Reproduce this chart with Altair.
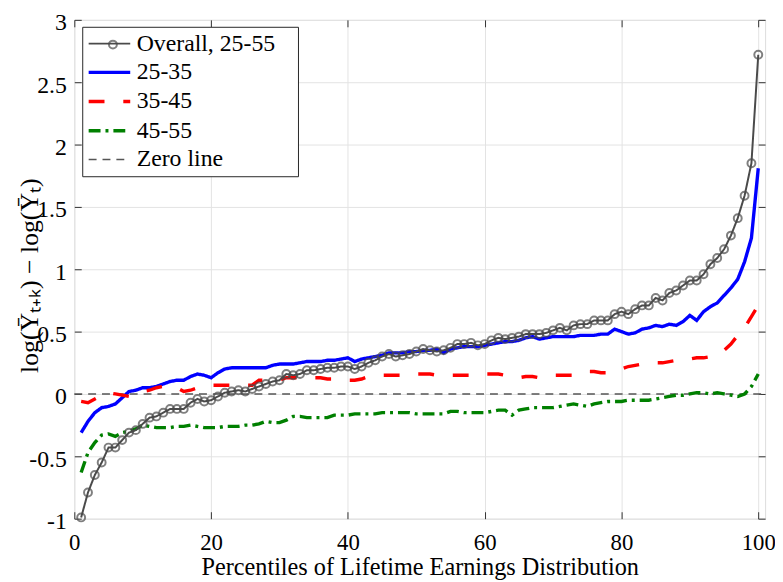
import altair as alt
import pandas as pd

FONT = "Liberation Serif"

pct = list(range(1, 101))

overall = [-0.99, -0.79, -0.65, -0.55, -0.43, -0.43, -0.37, -0.31, -0.29, -0.24,
           -0.19, -0.18, -0.15, -0.12, -0.12, -0.12, -0.07, -0.04, -0.06, -0.05,
           -0.02, 0.01, 0.02, 0.03, 0.02, 0.04, 0.06, 0.08, 0.10, 0.11,
           0.16, 0.15, 0.16, 0.19, 0.19, 0.20, 0.21, 0.21, 0.22, 0.22,
           0.20, 0.22, 0.25, 0.27, 0.30, 0.32, 0.30, 0.31, 0.32, 0.34,
           0.36, 0.35, 0.34, 0.35, 0.37, 0.40, 0.40, 0.41, 0.39, 0.40,
           0.43, 0.45, 0.44, 0.45, 0.46, 0.48, 0.48, 0.48, 0.49, 0.51,
           0.53, 0.51, 0.55, 0.56, 0.56, 0.59, 0.59, 0.59, 0.64, 0.66,
           0.64, 0.68, 0.71, 0.71, 0.77, 0.75, 0.81, 0.83, 0.87, 0.91,
           0.91, 0.96, 1.04, 1.09, 1.16, 1.27, 1.41, 1.59, 1.85, 2.72]

age_25_35 = [-0.31, -0.22, -0.15, -0.11, -0.10, -0.08, -0.03, 0.02, 0.03, 0.05,
             0.05, 0.06, 0.08, 0.10, 0.11, 0.11, 0.14, 0.16, 0.15, 0.13,
             0.17, 0.20, 0.21, 0.21, 0.21, 0.21, 0.21, 0.21, 0.23, 0.24,
             0.24, 0.24, 0.25, 0.26, 0.26, 0.26, 0.27, 0.27, 0.28, 0.29,
             0.26, 0.28, 0.29, 0.30, 0.31, 0.33, 0.33, 0.33, 0.34, 0.34,
             0.35, 0.35, 0.36, 0.33, 0.36, 0.37, 0.38, 0.38, 0.38, 0.39,
             0.40, 0.41, 0.42, 0.42, 0.43, 0.45, 0.46, 0.44, 0.45, 0.46,
             0.46, 0.46, 0.46, 0.47, 0.47, 0.47, 0.48, 0.48, 0.52, 0.50,
             0.48, 0.49, 0.52, 0.53, 0.55, 0.54, 0.56, 0.55, 0.58, 0.63,
             0.59, 0.66, 0.70, 0.73, 0.79, 0.85, 0.92, 1.06, 1.25, 1.81]

age_35_45 = [-0.06, -0.07, -0.04, -0.01, 0.01, 0.00, -0.01, -0.02, 0.00, 0.02,
             0.03, 0.05, 0.06, 0.05, 0.05, 0.02, 0.03, 0.05, 0.06, 0.07,
             0.07, 0.07, 0.07, 0.07, 0.07, 0.07, 0.11, 0.11, 0.11, 0.11,
             0.13, 0.13, 0.13, 0.13, 0.13, 0.13, 0.12, 0.12, 0.11, 0.11,
             0.11, 0.12, 0.14, 0.15, 0.15, 0.15, 0.15, 0.15, 0.16, 0.16,
             0.16, 0.16, 0.15, 0.15, 0.15, 0.15, 0.15, 0.15, 0.16, 0.16,
             0.16, 0.16, 0.15, 0.14, 0.13, 0.14, 0.14, 0.13, 0.14, 0.15,
             0.15, 0.15, 0.15, 0.16, 0.18, 0.18, 0.17, 0.17, 0.19, 0.20,
             0.22, 0.23, 0.24, 0.24, 0.25, 0.25, 0.26, 0.27, 0.27, 0.28,
             0.29, 0.29, 0.30, 0.32, 0.35, 0.40, 0.47, 0.53, 0.62, 0.71]

age_45_55 = [-0.63, -0.47, -0.39, -0.33, -0.32, -0.34, -0.31, -0.30, -0.28, -0.25,
             -0.26, -0.27, -0.27, -0.27, -0.26, -0.26, -0.25, -0.26, -0.27, -0.27,
             -0.27, -0.26, -0.26, -0.26, -0.25, -0.25, -0.24, -0.22, -0.23, -0.23,
             -0.21, -0.18, -0.18, -0.19, -0.19, -0.19, -0.19, -0.17, -0.17, -0.17,
             -0.16, -0.16, -0.16, -0.16, -0.15, -0.15, -0.15, -0.15, -0.15, -0.16,
             -0.16, -0.16, -0.16, -0.16, -0.14, -0.14, -0.15, -0.15, -0.15, -0.15,
             -0.14, -0.13, -0.13, -0.17, -0.13, -0.12, -0.11, -0.11, -0.11, -0.11,
             -0.10, -0.09, -0.08, -0.09, -0.10, -0.08, -0.07, -0.06, -0.06, -0.06,
             -0.05, -0.05, -0.05, -0.05, -0.04, -0.03, -0.02, -0.01, -0.01, 0.00,
             0.01, 0.01, 0.00, 0.01, 0.00, -0.01, -0.02, 0.00, 0.06, 0.16]

zero_x = [0, 101]
zero_y = [0, 0]

series_names = ["Overall, 25-55", "25-35", "35-45", "45-55", "Zero line"]
series_colors = ["#4a4a4a", "#0000ff", "#ff0000", "#008000", "#555555"]
series_dashes = [[1, 0], [1, 0], [16, 19], [12, 5, 3, 5], [8, 6]]
series_widths = [2, 3.4, 3.4, 3.4, 1.5]

x_ticks = [0, 20, 40, 60, 80, 100]
y_ticks = [-1, -0.5, 0, 0.5, 1, 1.5, 2, 2.5, 3]

rows = []
for name, ys in [("Overall, 25-55", overall), ("25-35", age_25_35),
                 ("35-45", age_35_45), ("45-55", age_45_55)]:
    for p, v in zip(pct, ys):
        rows.append({"p": p, "value": v, "series": name})
for p, v in zip(zero_x, zero_y):
    rows.append({"p": p, "value": v, "series": "Zero line"})
df = pd.DataFrame(rows)

legend = alt.Legend(
    title=None, orient="none", legendX=8, legendY=7,
    symbolType="M-2,0L2,0", symbolSize=441,
    symbolOffset=10, labelOffset=15, rowPadding=4.5,
    labelFont=FONT, labelFontSize=24, labelColor="black", labelLimit=300,
    labelExpr="datum.label + '\u2800'",
    strokeColor="#262626", fillColor="white", padding=5, cornerRadius=0,
)

color_enc = alt.Color("series:N", scale=alt.Scale(domain=series_names, range=series_colors), legend=legend)
dash_enc = alt.StrokeDash("series:N", scale=alt.Scale(domain=series_names, range=series_dashes), legend=legend)
width_enc = alt.StrokeWidth("series:N", scale=alt.Scale(type="ordinal", domain=series_names, range=series_widths),
                            legend=legend)

x_axis = alt.Axis(values=x_ticks, offset=-7, tickSize=7, tickColor="#333333", tickWidth=1,
                  domain=False, grid=True, gridColor="#e3e3e3", gridWidth=1,
                  labelFont=FONT, labelFontSize=23, labelColor="black", labelPadding=13,
                  labelFlush=False,
                  title="Percentiles of Lifetime Earnings Distribution",
                  titleFont=FONT, titleFontSize=24.5, titleFontWeight="normal",
                  titleColor="black", titlePadding=1)
y_axis = alt.Axis(values=y_ticks, offset=-7, tickSize=7, tickColor="#333333", tickWidth=1,
                  domain=False, grid=True, gridColor="#e3e3e3", gridWidth=1,
                  labelFont=FONT, labelFontSize=24, labelColor="black", labelPadding=8,
                  labelOffset=3,
                  labelExpr="toString(datum.value)", labelFlush=False,
                  title="log(\u0232\u209c\u208a\u2096) \u2212 log(\u0232\u209c)",
                  titleFont=FONT, titleFontSize=26, titleFontWeight="normal",
                  titleColor="black", titlePadding=-14, titleY=258)

xs = alt.Scale(domain=[0, 101], nice=False, zero=False)
ysc = alt.Scale(domain=[-1, 3], nice=False, zero=False)

base = alt.Chart(df)


def line_layer(name):
    return base.transform_filter(alt.datum.series == name).mark_line().encode(
        x=alt.X("p:Q", scale=xs, axis=x_axis),
        y=alt.Y("value:Q", scale=ysc, axis=y_axis),
        color=color_enc,
        strokeDash=dash_enc,
        strokeWidth=width_enc,
        order="p:Q",
    )


marker_legend = alt.Legend(
    title=None, orient="none", legendX=34, legendY=20, padding=0,
    labelExpr="''", labelFontSize=1, labelOffset=0, symbolSize=64, symbolStrokeWidth=2,
    symbolStrokeColor="#4a4a4a", symbolFillColor="white", symbolType="circle",
)

points = base.transform_filter(alt.datum.series == "Overall, 25-55").transform_calculate(
    marker="datum.series + ' marker'"
).mark_point(
    filled=False, size=64, strokeWidth=2, color="#4a4a4a"
).encode(
    x=alt.X("p:Q", scale=xs, axis=x_axis),
    y=alt.Y("value:Q", scale=ysc, axis=y_axis),
    shape=alt.Shape("marker:N", scale=alt.Scale(range=["circle"]), legend=marker_legend),
)

main = alt.layer(
    line_layer("Zero line"),
    line_layer("25-35"),
    line_layer("35-45"),
    line_layer("45-55"),
    line_layer("Overall, 25-55"),
    points,
)

ticks_top_right = base.transform_filter(alt.datum.series == "Zero line").mark_line(opacity=0).encode(
    x=alt.X("p:Q", scale=xs, axis=alt.Axis(orient="top", values=x_ticks, offset=-7, tickSize=7,
                                           tickColor="#333333", labels=False, domain=False,
                                           grid=False, title=None)),
    y=alt.Y("value:Q", scale=ysc, axis=alt.Axis(orient="right", values=y_ticks, offset=-7, tickSize=7,
                                               tickColor="#333333", labels=False, domain=False,
                                               grid=False, title=None)),
)

chart = alt.layer(main, ticks_top_right).resolve_axis(x="independent", y="independent").properties(
    width=698, height=504,
    autosize=alt.AutoSizeParams(type="none"),
    padding={"left": 67, "top": 9, "right": 10, "bottom": 60},
).configure_view(stroke="#262626", strokeWidth=1.5).configure(background="white")

chart.save("out.html", embed_options={"renderer": "svg", "actions": False})
